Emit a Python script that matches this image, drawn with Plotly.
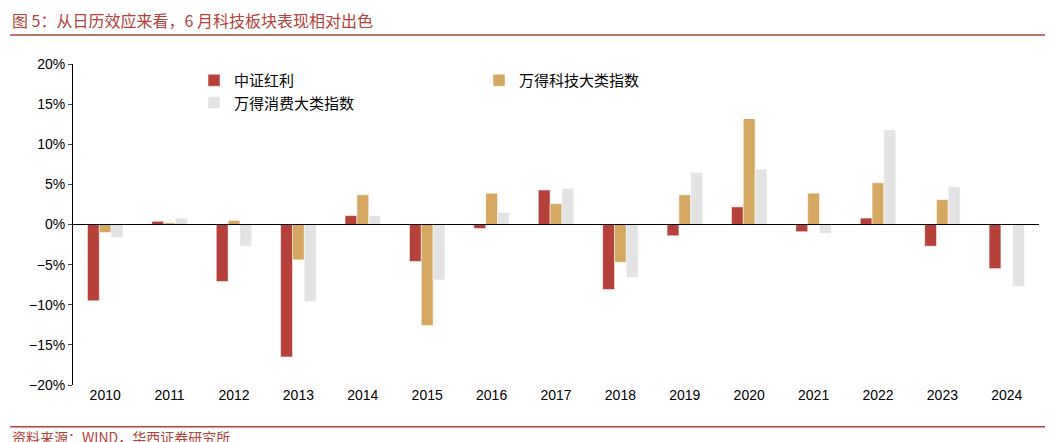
import plotly.graph_objects as go

years = [str(y) for y in range(2010, 2025)]
dividend = [-9.5, 0.4, -7.1, -16.5, 1.1, -4.6, -0.5, 4.3, -8.1, -1.4, 2.2, -0.9, 0.8, -2.7, -5.5]
tech = [-1.0, 0.2, 0.5, -4.4, 3.7, -12.6, 3.9, 2.6, -4.7, 3.7, 13.8, 3.9, 5.2, 3.1, 0.0]
consumer = [-1.6, 0.8, -2.7, -9.6, 1.1, -6.9, 1.5, 4.5, -6.6, 6.5, 6.9, -1.1, 11.8, 4.7, -7.7]

fig = go.Figure()
fig.add_bar(x=years, y=dividend, name="中证红利", marker_color="#B5413A")
fig.add_bar(x=years, y=tech, name="万得科技大类指数", marker_color="#D4A861")
fig.add_bar(x=years, y=consumer, name="万得消费大类指数", marker_color="#E3E3E3")

font = "Noto Sans CJK SC"
fig.update_layout(
    width=1053, height=442, template="plotly_white",
    plot_bgcolor="white", paper_bgcolor="white",
    font=dict(family=font, size=14, color="black"),
    margin=dict(l=65, r=22, t=56, b=65),
    barmode="group", bargap=0.45, bargroupgap=0.0,
    legend=dict(orientation="h", x=0.19, y=1.0, xanchor="left", yanchor="top",
                font=dict(size=15), itemwidth=30, entrywidth=240),
    yaxis=dict(range=[-20, 20], dtick=5, ticksuffix="%", showgrid=False,
               zeroline=False, showline=True, linecolor="black", ticks="outside",
               ticklen=4, tickfont=dict(family="Arial", size=14)),
    xaxis=dict(showgrid=False, showline=False, ticks="",
               tickfont=dict(family="Arial", size=14)),
    annotations=[
        dict(text="图 5：从日历效应来看，6 月科技板块表现相对出色", xref="paper", yref="paper",
             x=-0.065, y=1.0, yshift=30, xanchor="left", yanchor="bottom", showarrow=False,
             font=dict(size=16, color="#B5413A", family=font)),
        dict(text="资料来源：WIND，华西证券研究所", xref="paper", yref="paper",
             x=-0.065, y=0, yshift=-64, xanchor="left", yanchor="bottom", showarrow=False,
             font=dict(size=14, color="#B5413A", family=font)),
    ],
    shapes=[
        dict(type="line", xref="paper", yref="paper", x0=-0.065, x1=1.02, y0=1.09, y1=1.09,
             line=dict(color="#B5413A", width=1.5)),
        dict(type="line", xref="paper", yref="paper", x0=-0.065, x1=1.02, y0=-0.13, y1=-0.13,
             line=dict(color="#B5413A", width=1.5)),
        dict(type="line", xref="paper", yref="y", x0=0, x1=1, y0=0, y1=0,
             line=dict(color="black", width=1)),
    ],
)
fig.write_html("out.html")
